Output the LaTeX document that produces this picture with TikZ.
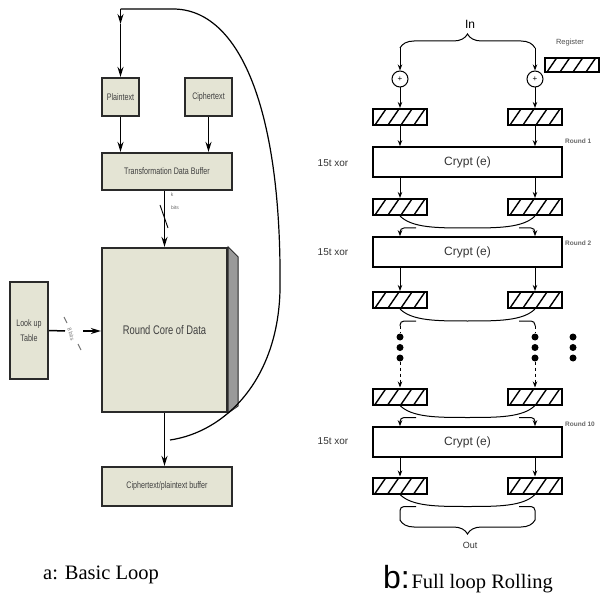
\documentclass[tikz,border=0pt]{standalone}
\usepackage{fontspec}
\usepackage{graphicx}
\setmainfont{Liberation Serif}
\newfontfamily\arial{Liberation Sans}
\usetikzlibrary{arrows.meta,decorations.pathreplacing,calc}
\definecolor{boxfill}{HTML}{E4E4D4}
\definecolor{boxline}{HTML}{2A2A2A}
\definecolor{sidegray}{HTML}{9A9A9A}
\newcommand\cz[1]{\scalebox{0.75}[1]{#1}}
\begin{document}
\begin{tikzpicture}[x=1pt,y=-1pt,
  lbox/.style={draw=boxline,line width=2.2pt,fill=boxfill,inner sep=0pt,
    font=\arial\fontsize{9.5}{15}\selectfont,text=black!75},
  arr/.style={-{Stealth[length=10pt,width=6pt]},line width=1.5pt},
  rarr/.style={-{Stealth[length=6pt,width=4.5pt]},line width=1pt},
  rline/.style={line width=1pt},
  hatch/.style={draw,line width=2pt,minimum width=54pt,minimum height=16pt,inner sep=0pt,
    path picture={\foreach \k in {0,...,4}{\draw[line width=1.4pt]
      ($(path picture bounding box.south west)+(2+13*\k,0)$) -- ++(11,-16);}}},
  cbox/.style={draw,line width=1.6pt,minimum width=189pt,minimum height=30pt,inner sep=0pt,
    font=\arial\fontsize{12}{14}\selectfont,text=black!80},
  xorsty/.style={circle,draw,line width=1pt,minimum size=16pt,inner sep=0pt,
    font=\arial\fontsize{8}{8}\selectfont},
  dot/.style={circle,fill,inner sep=0pt,minimum size=7pt},
  xorlab/.style={font=\arial\fontsize{10}{12}\selectfont,text=black!80},
  roundlab/.style={anchor=west,inner sep=0pt,font=\arial\bfseries\fontsize{6.5}{7}\selectfont,text=black!60},
  brc/.style={rline,decorate,decoration={brace,amplitude=14pt}}
]
\useasboundingbox (0,0) rectangle (600,596);

% ---------------- left: basic loop ----------------
\node[lbox,minimum width=37pt,minimum height=38pt] (plain) at (120.5,97) {\cz{Plaintext}};
\node[lbox,minimum width=47pt,minimum height=38pt] (ciph) at (208.5,97) {\cz{Ciphertext}};
\node[lbox,minimum width=130pt,minimum height=37pt] (tdb) at (167,171.5) {\cz{Transformation Data Buffer}};
\node[lbox,minimum width=125pt,minimum height=164pt,font=\arial\fontsize{12.5}{14}\selectfont] (core) at (164.5,330) {\cz{Round Core of Data}};
\filldraw[fill=sidegray,draw=boxline,line width=0.8pt] (core.north east) -- ++(10,10) -- ($(core.south east)+(10,-7)$) -- (core.south east) -- cycle;
\node[lbox,minimum width=38pt,minimum height=97pt,align=center] (lut) at (29,330.5) {\cz{Look up}\\\cz{Table}};
\node[lbox,minimum width=130pt,minimum height=39pt] (buf) at (167,486.5) {\cz{Ciphertext/plaintext buffer}};

\coordinate (tl) at (120.5,9);
\coordinate (tm) at (120.5,24);
\coordinate (lp) at (170,440);
\draw[line width=1.2pt] (lp) .. controls (225,432) and (278,380) .. (280,290)
  .. controls (282,110) and (240,9) .. (173,9) -- (tl);
\draw[arr] (tl) -- (tm);
\draw[arr] (tm) -- (plain.north);
\draw[arr] (plain.south) -- (plain.south |- tdb.north);
\draw[arr] (ciph.south) -- (ciph.south |- tdb.north);
\draw[arr] (core.north |- tdb.south) -- (core.north);
\draw[line width=0.9pt] (160,205) -- (168,228);
\node[font=\arial\fontsize{5}{6}\selectfont,text=black!60] (bk) at (172,195) {k};
\node[font=\arial\fontsize{5}{6}\selectfont,text=black!60] (bb) at (175,208) {bits};
\draw[arr] (core.south) -- (core.south |- buf.north);

\coordinate (lx) at (65,331);
\coordinate (la) at (83,331);
\draw[line width=1.5pt] (lut.east) -- (lx);
\draw[black!55,line width=0.9pt] (64,317) -- (67,323);
\draw[black!55,line width=0.9pt] (78,344) -- (81,350);
\node[rotate=-75,font=\arial\fontsize{5.5}{6}\selectfont,text=black!55] (lbits) at (71,334) {8 bits};
\draw[arr] (la) -- (core.west |- la);

\node[anchor=base west,inner sep=0pt,font=\fontsize{20.5}{22}\selectfont] (capa) at (43,579) {a: Basic Loop};

% ---------------- right: full loop rolling ----------------
\node[font=\arial\fontsize{12}{14}\selectfont] (in) at (470,24) {In};
\coordinate (inl) at (400,48);
\coordinate (inr) at (535,48);
\draw[brc] (inl) -- (inr);
\node[xorsty] (xl) at (400,79) {+};
\node[xorsty] (xr) at (535,79) {+};
\draw[rarr] (inl) -- (xl.north);
\draw[rarr] (inr) -- (xr.north);
\node[font=\arial\fontsize{7.5}{8}\selectfont,text=black!70] (reglab) at (570,43) {Register};
\node[hatch,minimum height=14pt] (reg) at (572,65) {};

\foreach \r/\yy in {1/117,2/207,3/300,4/396.5,5/485.5}{
  \node[hatch] (h\r l) at (400,\yy) {};
  \node[hatch] (h\r r) at (535,\yy) {};
}
\node[cbox] (c1) at (467.5,162) {Crypt (e)};
\node[cbox] (c2) at (467.5,252) {Crypt (e)};
\node[cbox] (c3) at (467.5,442) {Crypt (e)};
\node[xorlab] (x1) at (333,163) {15t xor};
\node[xorlab] (x2) at (333,252) {15t xor};
\node[xorlab] (x3) at (333,441) {15t xor};
\node[roundlab] (r1) at (565,141) {Round 1};
\node[roundlab] (r2) at (565,243) {Round 2};
\node[roundlab] (r3) at (565,424) {Round 10};

\draw[rarr] (xl.south) -- (h1l.north);
\draw[rarr] (xr.south) -- (h1r.north);
\draw[rarr] (h1l.south) -- (h1l.south |- c1.north);
\draw[rarr] (h1r.south) -- (h1r.south |- c1.north);
\draw[rarr] (h2l.north |- c1.south) -- (h2l.north);
\draw[rarr] (h2r.north |- c1.south) -- (h2r.north);
\draw[rarr] (h3l.north |- c2.south) -- (h3l.north);
\draw[rarr] (h3r.north |- c2.south) -- (h3r.north);
\draw[rarr] (h5l.north |- c3.south) -- (h5l.north);
\draw[rarr] (h5r.north |- c3.south) -- (h5r.north);

% swap lenses
\foreach \r in {2,3,4,5}{
  \draw[rline] (h\r l.south) .. controls +(12,12) and +(-30,0) ..
    ($(h\r l.south)!0.5!(h\r r.south)+(0,12)$) .. controls +(30,0) and +(-12,12) .. (h\r r.south);
}
\foreach \r/\c in {2/c2,4/c3}{
  \draw[rarr,rounded corners=4pt] ($(h\r l.south)+(16,12)$) -- ($(h\r l.south)+(0,12)$) -- (h\r l.south |- \c.north);
  \draw[rarr,rounded corners=4pt] ($(h\r r.south)+(-16,12)$) -- ($(h\r r.south)+(0,12)$) -- (h\r r.south |- \c.north);
}
% dots
\foreach \n/\yy in {1/337,2/347.5,3/358}{
  \node[dot] (dl\n) at (400,\yy) {};
  \node[dot] (dr\n) at (535,\yy) {};
  \node[dot] (dx\n) at (573,\yy) {};
}
\draw[rline,rounded corners=4pt] ($(h3l.south)+(16,12)$) -- ($(h3l.south)+(0,12)$) -- ($(h3l.south)+(0,17)$) coordinate (k3l);
\draw[rline,rounded corners=4pt] ($(h3r.south)+(-16,12)$) -- ($(h3r.south)+(0,12)$) -- ($(h3r.south)+(0,17)$) coordinate (k3r);
\draw[rline,dashed] (k3l) -- (dl1.north);
\draw[rline,dashed] (k3r) -- (dr1.north);
\draw[rarr,dashed] (dl3.south) -- (h4l.north);
\draw[rarr,dashed] (dr3.south) -- (h4r.north);

% out
\coordinate (outl) at (400,520);
\coordinate (outr) at (535,520);
\draw[rline,rounded corners=4pt] ($(h5l.south)+(16,12)$) -- ($(h5l.south)+(0,12)$) -- (outl);
\draw[rline,rounded corners=4pt] ($(h5r.south)+(-16,12)$) -- ($(h5r.south)+(0,12)$) -- (outr);
\draw[brc] (outr) -- (outl);
\node[font=\arial\fontsize{9}{10}\selectfont,text=black!80] (out) at (470,545) {Out};

\node[anchor=base west,inner sep=0pt] (capb) at (383,588)
  {{\arial\fontsize{32}{34}\selectfont b:}\,{\fontsize{20.5}{22}\selectfont Full loop Rolling}};
\end{tikzpicture}
\end{document}
